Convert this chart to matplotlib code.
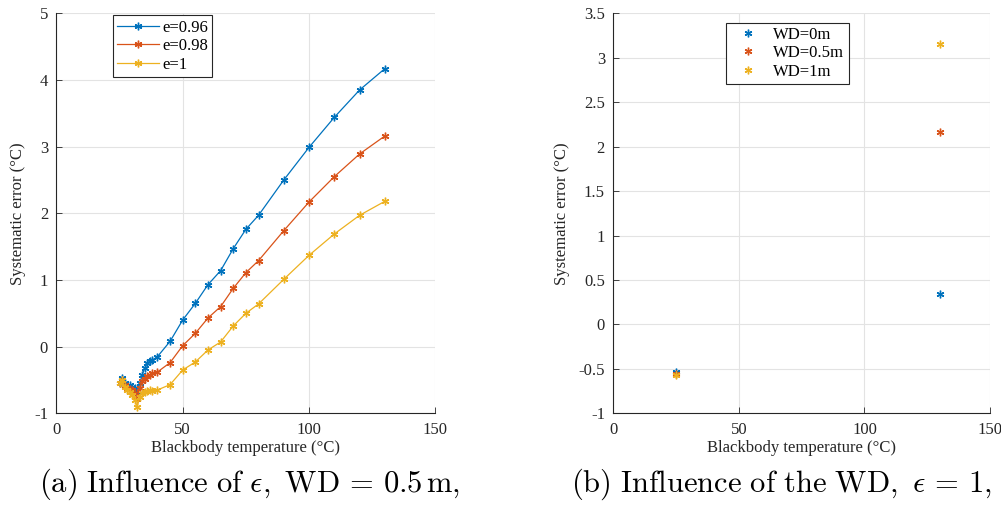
import matplotlib
matplotlib.use("Agg")
import matplotlib.pyplot as plt
import numpy as np

# ---- data: left panel (influence of emissivity) ----
temps_a = [25, 26, 27, 28, 29, 30, 31, 32, 33, 34, 35, 36, 37, 38, 40,
           45, 50, 55, 60, 65, 70, 75, 80, 90, 100, 110, 120, 130]
err_e096 = [-0.55, -0.47, -0.55, -0.60, -0.58, -0.60, -0.62, -0.68, -0.55, -0.42,
            -0.32, -0.25, -0.22, -0.20, -0.15,
            0.08, 0.40, 0.65, 0.93, 1.14, 1.47, 1.76, 1.97, 2.50, 2.99, 3.44, 3.85, 4.17]
err_e098 = [-0.55, -0.50, -0.58, -0.62, -0.63, -0.65, -0.70, -0.78, -0.62, -0.52,
            -0.48, -0.44, -0.42, -0.40, -0.38,
            -0.24, 0.015, 0.20, 0.43, 0.60, 0.875, 1.11, 1.29, 1.74, 2.17, 2.55, 2.89, 3.16]
err_e1 = [-0.55, -0.50, -0.60, -0.65, -0.68, -0.72, -0.80, -0.90, -0.75, -0.70,
          -0.68, -0.66, -0.65, -0.66, -0.65,
          -0.57, -0.35, -0.23, -0.05, 0.07, 0.31, 0.50, 0.64, 1.01, 1.37, 1.69, 1.97, 2.18]
labels_a = ["e=0.96", "e=0.98", "e=1"]

# ---- data: right panel (influence of working distance) ----
temps_b = [25, 130]
err_wd0 = [-0.53, 0.34]
err_wd05 = [-0.56, 2.17]
err_wd1 = [-0.57, 3.15]
labels_b = ["WD=0m", "WD=0.5m", "WD=1m"]

xticks = [0, 50, 100, 150]
yticks_a = [-1, 0, 1, 2, 3, 4, 5]
yticks_b = [-1, -0.5, 0, 0.5, 1, 1.5, 2, 2.5, 3, 3.5]
ytlabels_b = ["-1", "-0.5", "0", "0.5", "1", "1.5", "2", "2.5", "3", "3.5"]

colors = ["#0072BD", "#D95319", "#EDB120"]

plt.rcParams["font.family"] = ["Liberation Serif", "DejaVu Serif"]
plt.rcParams["axes.unicode_minus"] = False
plt.rcParams["mathtext.fontset"] = "cm"

W, H = 1001, 515
fig = plt.figure(figsize=(W / 100, H / 100), dpi=100)

def px_axes(x0, x1, y0, y1):
    return fig.add_axes([x0 / W, 1 - y1 / H, (x1 - x0) / W, (y1 - y0) / H])

ax1 = px_axes(56.4, 435.4, 13.3, 413.3)
ax2 = px_axes(613.3, 990.0, 13.3, 413.3)

ast = (6, 2, 0)

def style(ax):
    for s in ["top", "right"]:
        ax.spines[s].set_visible(False)
    for s in ["left", "bottom"]:
        ax.spines[s].set_color("#262626")
        ax.spines[s].set_linewidth(0.8)
    ax.grid(True, color="#e3e3e3", linewidth=0.8)
    ax.set_axisbelow(True)
    ax.tick_params(direction="in", length=4, width=0.6, colors="#262626",
                   labelsize=12, labelcolor="#262626", pad=6)
    ax.set_xlim(0, 150)
    ax.set_xticks(xticks)
    ax.set_xticklabels([str(t) for t in xticks])
    ax.set_xlabel("Blackbody temperature (°C)", fontsize=12, color="#262626", labelpad=2)
    ax.set_ylabel("Systematic error (°C)", fontsize=12, color="#262626", labelpad=6)

# left panel
for ys, c, lab in zip([err_e096, err_e098, err_e1], colors, labels_a):
    ax1.plot(temps_a, ys, color=c, lw=0.9, marker=ast, ms=5.5, mew=1.0, label=lab,
             clip_on=False)
style(ax1)
ax1.set_ylim(-1, 5)
ax1.set_yticks(yticks_a)
ax1.set_yticklabels([str(t) for t in yticks_a])
leg1 = ax1.legend(loc="upper left", bbox_to_anchor=(0.14, 1.003), fontsize=12,
                  frameon=True, fancybox=False, edgecolor="#262626", framealpha=1,
                  handlelength=2.5, handletextpad=0.2, borderpad=0.25, labelspacing=0.15,
                  borderaxespad=0.2)
leg1.get_frame().set_linewidth(0.8)

# right panel
for ys, c, lab in zip([err_wd0, err_wd05, err_wd1], colors, labels_b):
    ax2.plot(temps_b, ys, color=c, lw=0, marker=ast, ms=5.5, mew=1.0, label=lab,
             linestyle="none")
style(ax2)
ax2.set_ylim(-1, 3.5)
ax2.set_yticks(yticks_b)
ax2.set_yticklabels(ytlabels_b)
leg2 = ax2.legend(loc="upper left", bbox_to_anchor=(0.29, 0.985), fontsize=12,
                  frameon=True, fancybox=False, edgecolor="#262626", framealpha=1,
                  handlelength=2.2, handletextpad=0.4, borderpad=0.25, labelspacing=0.15,
                  borderaxespad=0.2)
leg2.get_frame().set_linewidth(0.8)

# captions
fig.text(250 / W, 1 - 484 / H,
         r"$\mathrm{(a)\ Influence\ of\ }\epsilon\mathrm{,\ WD}\,=\,0.5\,\mathrm{m,}$",
         ha="center", va="center", fontsize=22)
fig.text(781 / W, 1 - 484 / H,
         r"$\mathrm{(b)\ Influence\ of\ the\ WD,\ }\epsilon\,=\,1\mathrm{,}$",
         ha="center", va="center", fontsize=22)

fig.savefig("out.png", dpi=100)
